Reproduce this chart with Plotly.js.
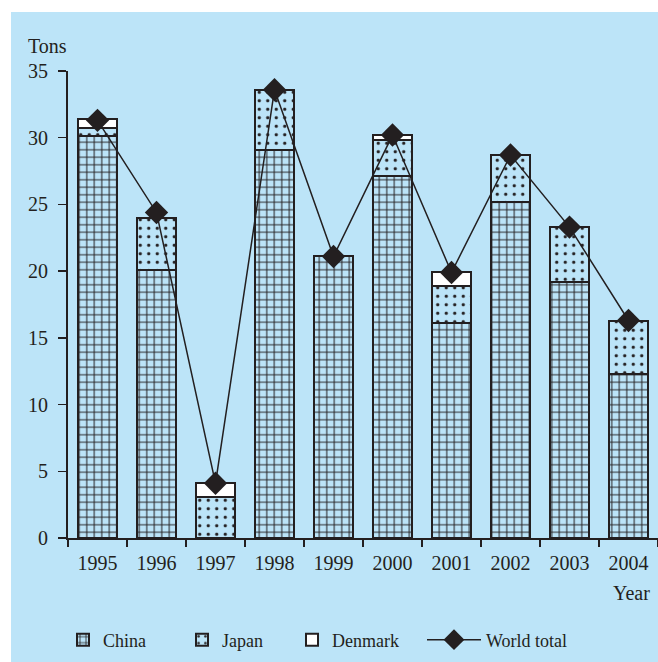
<!DOCTYPE html>
<html>
<head>
<meta charset="utf-8">
<script src="https://cdn.plot.ly/plotly-3.0.1.min.js"></script>
<style>html,body{margin:0;padding:0;background:#fff;}#chart{width:658px;height:662px;}</style>
</head>
<body>
<div id="chart"></div>
<script>
const years = ['1995','1996','1997','1998','1999','2000','2001','2002','2003','2004'];
const china = [30.1, 20.1, null, 29.1, 21.1, 27.1, 16.1, 25.2, 19.2, 12.3];
const japan = [0.6, 3.9, 3.05, 4.5, null, 2.7, 2.8, 3.5, 4.1, 4.0];
const denmark = [0.7, null, 1.05, null, null, 0.4, 1.0, null, null, null];
const worldTotal = [31.3, 24.4, 4.1, 33.6, 21.1, 30.2, 19.9, 28.7, 23.3, 16.3];

const ink = '#231f20';
const bg = '#bce4f8';
const fontFam = '"Liberation Serif", "Times New Roman", serif';

const traces = [
  {type:'bar', name:'China', x:years, y:china, legend:'legend',
   marker:{color:bg, line:{color:ink, width:2},
     pattern:{shape:'+', fgcolor:ink, bgcolor:bg, size:7.5, solidity:0.25}}},
  {type:'bar', name:'Japan', x:years, y:japan, legend:'legend2',
   marker:{color:bg, line:{color:ink, width:2},
     pattern:{shape:'.', fgcolor:ink, bgcolor:bg, size:8.5, solidity:0.12}}},
  {type:'bar', name:'Denmark', x:years, y:denmark, legend:'legend3',
   marker:{color:'#ffffff', line:{color:ink, width:2}}},
  {type:'scatter', mode:'lines+markers', name:'World total', x:years, y:worldTotal, legend:'legend4',
   line:{color:ink, width:1.5},
   marker:{symbol:'diamond', size:18, color:ink, line:{width:0}}}
];

function px2x(p){ return (p-68)/590; }
function py2y(p){ return (538-p)/467; }
const legFont = {size:18, family:fontFam, color:ink};
function leg(xp, iw){ const o = {orientation:'h', x:px2x(xp), xanchor:'left', y:py2y(640), yanchor:'middle',
  font:legFont, bgcolor:'rgba(0,0,0,0)', borderwidth:0}; if (iw) o.itemwidth = iw; return o; }

const layout = {
  width:658, height:662,
  margin:{l:68, r:0, t:71, b:124},
  paper_bgcolor:bg, plot_bgcolor:'rgba(0,0,0,0)',
  font:{family:fontFam, color:ink, size:20},
  barmode:'stack', bargap:0.34,
  showlegend:true,
  legend:leg(63), legend2:leg(182), legend3:leg(292), legend4:leg(422, 54),
  xaxis:{type:'category', range:[-0.5, 9.5], autorange:false, showline:true, linecolor:ink, linewidth:2,
    ticks:'outside', tickson:'boundaries', ticklen:7, tickwidth:1.5, tickcolor:ink,
    showgrid:false, zeroline:false, fixedrange:true,
    tickfont:{size:20, family:fontFam, color:ink}, ticklabelstandoff:6},
  yaxis:{range:[0,35], dtick:5, tick0:0, showline:true, linecolor:ink, linewidth:2,
    ticks:'outside', ticklen:8, tickwidth:1.5, tickcolor:ink,
    showgrid:false, zeroline:false, fixedrange:true,
    tickfont:{size:20, family:fontFam, color:ink}, ticklabelstandoff:6},
  shapes:[
    {type:'rect', xref:'paper', yref:'paper', x0:-0.2, x1:1.05, y0:1.1263, y1:1.3,
     fillcolor:'#ffffff', line:{width:0}, layer:'above'},
    {type:'rect', xref:'paper', yref:'paper', x0:-0.2, x1:-0.0966, y0:-0.4, y1:1.3,
     fillcolor:'#ffffff', line:{width:0}, layer:'above'}
  ],
  annotations:[
    {text:'Tons', xref:'paper', yref:'paper', x:px2x(26), y:py2y(46),
     xanchor:'left', yanchor:'middle', showarrow:false, font:{size:20, family:fontFam, color:ink}},
    {text:'Year', xref:'paper', yref:'paper', x:px2x(652), y:py2y(593),
     xanchor:'right', yanchor:'middle', showarrow:false, font:{size:20, family:fontFam, color:ink}}
  ]
};

Plotly.newPlot('chart', traces, layout, {displayModeBar:false, staticPlot:true});
</script>
</body>
</html>
